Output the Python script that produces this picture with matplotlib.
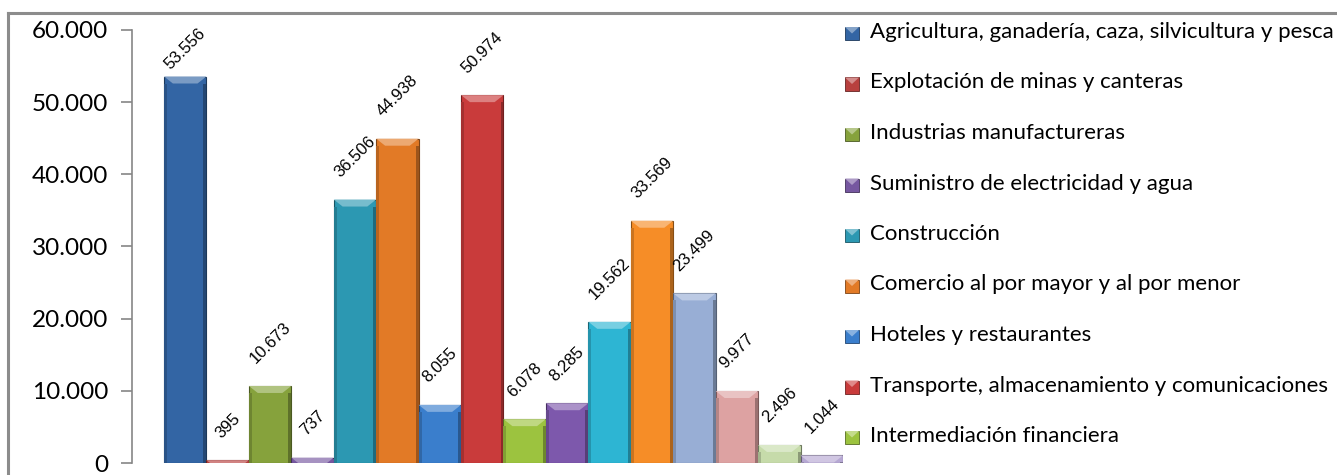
import matplotlib
matplotlib.use("Agg")
import matplotlib.pyplot as plt
from matplotlib.patches import Polygon, Rectangle
from matplotlib.lines import Line2D
from matplotlib.ticker import FuncFormatter
import matplotlib.colors as mcolors
import numpy as np

# ---------------- data ----------------
legend_labels = [
    "Agricultura, ganadería, caza, silvicultura y pesca",
    "Explotación de minas y canteras",
    "Industrias manufactureras",
    "Suministro de electricidad y agua",
    "Construcción",
    "Comercio al por mayor y al por menor",
    "Hoteles y restaurantes",
    "Transporte, almacenamiento y comunicaciones",
    "Intermediación financiera",
]
values = [53556, 395, 10673, 737, 36506, 44938, 8055, 50974,
          6078, 8285, 19562, 33569, 23499, 9977, 2496, 1044]
value_labels = ["53.556", "395", "10.673", "737", "36.506", "44.938", "8.055", "50.974",
                "6.078", "8.285", "19.562", "33.569", "23.499", "9.977", "2.496", "1.044"]
bar_colors = ["#3365A4", "#B8403E", "#86A23C", "#7657A0", "#2C98B2", "#E27A26",
              "#3A7ECC", "#C93B3B", "#9CC33F", "#7D58AC", "#2DB5D3", "#F68D27",
              "#98AED5", "#DDA2A2", "#C6DBAA", "#B6A8D3"]
y_ticks = [0, 10000, 20000, 30000, 40000, 50000, 60000]

# ---------------- figure ----------------
W, H = 1337, 475
DPI = 100
fig = plt.figure(figsize=(W / DPI, H / DPI), dpi=DPI)
fig.patch.set_facecolor("white")

def fx(px):
    return px / W

def fy(py):
    return 1 - py / H

ax_left, ax_right, ax_top, ax_bottom = 132, 843, 30, 463
ax = fig.add_axes([fx(ax_left), fy(ax_bottom), fx(ax_right - ax_left), (ax_bottom - ax_top) / H])

x = np.arange(len(values))
bar_w = 1.0
left_pad = (164 - 132) / ((843 - 164) / 16)
ax.set_xlim(-0.5 - left_pad, len(values) - 0.5)
ax.set_ylim(0, 60000)

def shade(c, f):
    r, g, b = mcolors.to_rgb(c)
    if f < 1:
        return (r * f, g * f, b * f)
    t = f - 1
    return (r + (1 - r) * t, g + (1 - g) * t, b + (1 - b) * t)

bars = ax.bar(x, values, width=bar_w, color=bar_colors,
              edgecolor=[shade(c, 0.55) for c in bar_colors], linewidth=0.8, zorder=2)

# bevel decoration derived from each bar's geometry
px_per_unit_y = (ax_bottom - ax_top) / 60000
bev_y = 7 / px_per_unit_y
for b, c in zip(bars, bar_colors):
    x0 = b.get_x(); w = b.get_width(); h = b.get_height()
    d = min(bev_y, h)
    ins = 0.21 * w * (d / bev_y)
    ax.add_patch(Polygon([(x0, h), (x0 + w, h), (x0 + w - ins, h - d), (x0 + ins, h - d)],
                         closed=True, facecolor=shade(c, 1.35), edgecolor="none", zorder=3))
    ax.add_patch(Rectangle((x0, 0), 0.07 * w, max(h - d, 0), facecolor=shade(c, 0.82),
                           edgecolor="none", zorder=3))
    ax.add_patch(Rectangle((x0 + 0.93 * w, 0), 0.07 * w, max(h - d, 0), facecolor=shade(c, 0.7),
                           edgecolor="none", zorder=3))

# axes styling
for s in ["top", "right", "bottom"]:
    ax.spines[s].set_visible(False)
ax.spines["left"].set_color("#868686")
ax.spines["left"].set_linewidth(1.2)
ax.set_xticks([])
ax.set_yticks(y_ticks)
ax.yaxis.set_major_formatter(FuncFormatter(lambda v, p: f"{int(v):,}".replace(",", ".")))
ax.tick_params(axis="y", direction="out", length=8, width=1.2, color="#868686",
               labelsize=17.5, pad=9)
for t in ax.get_yticklabels():
    t.set_family("Lato")
ax.patch.set_alpha(0)

# value labels (rotated 45°, kept inside plot area)
gap_pt = 14
anns = []
for b, lab in zip(bars, value_labels):
    a = ax.annotate(lab, (b.get_x() + b.get_width() / 2, b.get_height()),
                    xytext=(0, gap_pt), textcoords="offset points", rotation=45,
                    ha="center", va="bottom", fontsize=12, family="Liberation Sans",
                    color="black", zorder=5)
    anns.append(a)
fig.canvas.draw()
r = fig.canvas.get_renderer()
top_disp = (H - ax_top + 4) * DPI / 100
for a in anns:
    bb = a.get_window_extent(r)
    if bb.y1 > top_disp:
        excess_pt = (bb.y1 - top_disp) * 72 / DPI
        a.xyann = (0, gap_pt - excess_pt)

# outer chart frame (clipped by image)
fig.add_artist(Line2D([fx(8), fx(8)], [fy(13), 0], color="#8C8C8C", lw=2.2))
fig.add_artist(Line2D([fx(8), 1], [fy(13), fy(13)], color="#8C8C8C", lw=2.2))

# legend (first 9 visible entries)
sqw, sqh = 14, 13
row0, step = 32, 50.5
for i, lab in enumerate(legend_labels):
    cy = row0 + i * step
    c = bar_colors[i]
    sy = cy + 1.5
    fig.add_artist(Rectangle((fx(845), fy(sy + sqh / 2)), fx(sqw), sqh / H,
                             facecolor=c, edgecolor=shade(c, 0.55), lw=0.6))
    fig.add_artist(Polygon([(fx(845), fy(sy - sqh / 2)), (fx(845 + sqw), fy(sy - sqh / 2)),
                            (fx(845 + sqw / 2), fy(sy))], closed=True,
                           facecolor=shade(c, 1.4), edgecolor="none"))
    fig.text(fx(870), fy(cy), lab, ha="left", va="center", fontsize=16,
             family="Lato", color="black")

fig.savefig("out.png", dpi=DPI, facecolor="white")
